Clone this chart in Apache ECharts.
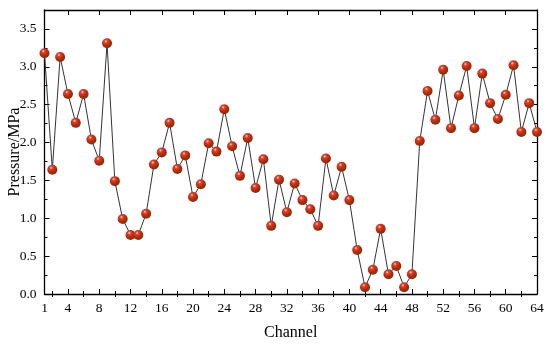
<!DOCTYPE html>
<html><head><meta charset="utf-8">
<script src="https://cdn.jsdelivr.net/npm/echarts@6/dist/echarts.min.js"></script>
<style>html,body{margin:0;padding:0;background:#fff}#c{width:550px;height:347px}</style>
</head><body><div id="c"></div>
<script>
const channels = Array.from({length:64},(_,i)=>i+1);
const pressure = [3.18,1.64,3.13,2.64,2.26,2.64,2.04,1.76,3.31,1.49,0.99,0.78,0.78,1.06,1.71,1.87,
2.26,1.65,1.83,1.28,1.45,1.99,1.88,2.44,1.95,1.56,2.06,1.40,1.78,0.90,1.51,1.08,
1.46,1.24,1.12,0.90,1.79,1.30,1.68,1.24,0.58,0.09,0.32,0.86,0.26,0.37,0.09,0.26,
2.02,2.68,2.30,2.96,2.19,2.62,3.01,2.19,2.91,2.52,2.31,2.63,3.02,2.14,2.52,2.14];
const xLabels = [1,4,8,12,16,20,24,28,32,36,40,44,48,52,56,60,64];
const xMajorTicks = [4,8,12,16,20,24,28,32,36,40,44,48,52,56,60];
const xMinorTicks = [2,6,10,14,18,22,26,30,34,38,42,46,50,54,58,62];
const yTicks = [0,0.5,1.0,1.5,2.0,2.5,3.0,3.5];

const font = 'Liberation Serif, DejaVu Serif, serif';
const chart = echarts.init(document.getElementById('c'));
const sphere = new echarts.graphic.RadialGradient(0.38,0.3,0.75,[
  {offset:0,color:'#ffe0d0'},{offset:0.22,color:'#e0402a'},{offset:0.6,color:'#b02a10'},{offset:1,color:'#6a3a08'}]);
const axLine = {show:true,onZero:false,lineStyle:{color:'#000',width:1.3}};
const grid = {left:44.5,right:13,top:10,bottom:53,outerBoundsMode:'none',containLabel:false};
chart.setOption({
  animation:false,
  grid: grid,
  xAxis:[
    {type:'value',min:1,max:64,position:'bottom',name:'Channel',nameLocation:'middle',nameGap:39,nameMoveOverlap:false,
     nameTextStyle:{fontFamily:font,fontSize:16,color:'#000',verticalAlign:'middle'},
     axisLine:axLine,splitLine:{show:false},
     axisTick:{show:true,inside:true,length:5,customValues:xMajorTicks,lineStyle:{color:'#000'}},
     axisLabel:{customValues:xLabels,fontFamily:font,fontSize:13.5,color:'#000',margin:7}},
    {type:'value',min:1,max:64,position:'bottom',axisLine:{show:false},splitLine:{show:false},
     axisTick:{show:true,inside:true,length:3,customValues:xMinorTicks,lineStyle:{color:'#000'}},
     axisLabel:{show:false}},
    {type:'value',min:1,max:64,position:'top',axisLine:axLine,splitLine:{show:false},
     axisTick:{show:true,inside:true,length:5,customValues:xMajorTicks,lineStyle:{color:'#000'}},
     axisLabel:{show:false}},
    {type:'value',min:1,max:64,position:'top',axisLine:{show:false},splitLine:{show:false},
     axisTick:{show:true,inside:true,length:3,customValues:xMinorTicks,lineStyle:{color:'#000'}},
     axisLabel:{show:false}}
  ],
  yAxis:[
    {type:'value',min:0,max:3.75,interval:0.5,position:'left',name:'Pressure/MPa',nameLocation:'middle',nameGap:30,nameMoveOverlap:false,
     nameTextStyle:{fontFamily:font,fontSize:16,color:'#000',verticalAlign:'middle'},
     axisLine:axLine,splitLine:{show:false},
     axisTick:{show:true,inside:true,length:5,customValues:yTicks,lineStyle:{color:'#000'}},
     minorTick:{show:true,splitNumber:2,length:3,lineStyle:{color:'#000'}},
     axisLabel:{customValues:yTicks,fontFamily:font,fontSize:13.5,color:'#000',margin:8,formatter:v=>v.toFixed(1)}},
    {type:'value',min:0,max:3.75,interval:0.5,position:'right',axisLine:axLine,splitLine:{show:false},
     axisTick:{show:true,inside:true,length:5,customValues:yTicks,lineStyle:{color:'#000'}},
     minorTick:{show:true,splitNumber:2,length:3,lineStyle:{color:'#000'}},
     axisLabel:{show:false}}
  ],
  series:[{type:'line',xAxisIndex:0,yAxisIndex:0,data:channels.map((c,i)=>[c,pressure[i]]),
    lineStyle:{color:'#333',width:1},symbol:'circle',symbolSize:10,
    itemStyle:{color:sphere,borderWidth:0},clip:false}]
});
</script></body></html>
